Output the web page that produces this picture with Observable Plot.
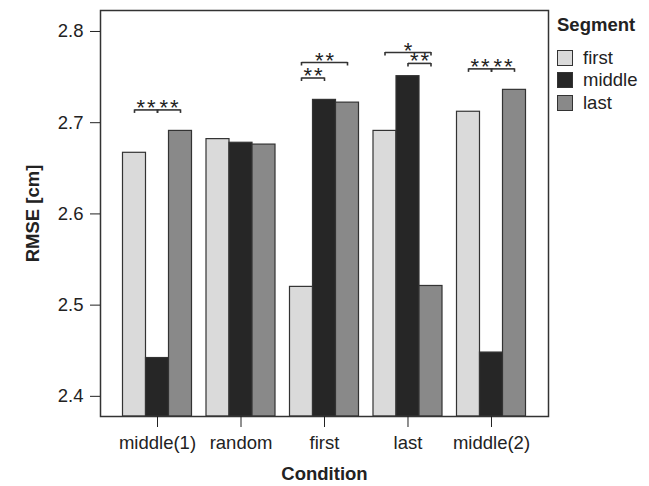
<!DOCTYPE html>
<html>
<head>
<meta charset="utf-8">
<script src="https://cdn.jsdelivr.net/npm/d3@7"></script>
<script src="https://cdn.jsdelivr.net/npm/@observablehq/plot@0.6"></script>
<style>
  html, body { margin: 0; padding: 0; background: #fff; }
  #wrap { position: relative; width: 649px; height: 486px; font-family: "Liberation Sans", Arial, sans-serif; color: #222; }
  #wrap svg { font-family: "Liberation Sans", Arial, sans-serif; }
  [aria-label="y-axis label"] text, [aria-label="x-axis label"] text { font-weight: bold; }
  g.sig-stars text { letter-spacing: 2px; }
  #legend { position: absolute; left: 557px; top: 14px; font-size: 18.5px; line-height: 22.5px; }
  #legend .title { font-weight: bold; margin-bottom: 10px; }
  #legend .item { display: flex; align-items: center; height: 22.5px; }
  #legend .sw { width: 14px; height: 14px; border: 1px solid #333; margin-right: 10px; }
</style>
</head>
<body>
<div id="wrap"></div>
<script>
const conditions = ["middle(1)", "random", "first", "last", "middle(2)"];
const segments = ["first", "middle", "last"];
const rmseFirst  = [2.667, 2.682, 2.520, 2.691, 2.712];
const rmseMiddle = [2.442, 2.678, 2.725, 2.751, 2.448];
const rmseLast   = [2.691, 2.676, 2.722, 2.521, 2.736];
const yTicks = [2.4, 2.5, 2.6, 2.7, 2.8];
const segmentColors = ["#dadada", "#262626", "#898989"];

// significance brackets
const sigCondition = ["middle(1)", "middle(1)", "first", "first", "last", "last", "middle(2)", "middle(2)"];
const sigFrom = ["first", "middle", "first", "first", "first", "middle", "first", "middle"];
const sigTo   = ["middle", "last", "middle", "last", "last", "last", "middle", "last"];
const sigY    = [2.714, 2.714, 2.749, 2.766, 2.777, 2.765, 2.759, 2.759];
const sigLabel = ["**", "**", "**", "**", "*", "**", "**", "**"];

// layout
const groupStep = 3.63;
const xDomain = [-1.478, 4 * groupStep + 2.5 + 0.978];
const yDomain = [2.3779, 2.823];

const series = [rmseFirst, rmseMiddle, rmseLast];
const pos = (c, s) => conditions.indexOf(c) * groupStep + segments.indexOf(s);

const table = [];
conditions.forEach((c, i) => segments.forEach((s, j) => {
  table.push({condition: c, segment: s, value: series[j][i], pos: pos(c, s)});
}));

const sig = sigCondition.map((c, k) => ({
  x1: pos(c, sigFrom[k]), x2: pos(c, sigTo[k]), y: sigY[k], label: sigLabel[k]
}));
const sigEnds = sig.flatMap(d => [{x: d.x1, y: d.y}, {x: d.x2, y: d.y}]);

const chart = Plot.plot({
  width: 649,
  height: 486,
  marginLeft: 100,
  marginRight: 101,
  marginTop: 10,
  marginBottom: 70,
  x: {domain: xDomain},
  y: {domain: yDomain},
  color: {domain: segments, range: segmentColors},
  marks: [
    Plot.rectY(table, {
      x1: d => d.pos - 0.5, x2: d => d.pos + 0.5,
      y1: yDomain[0], y2: "value",
      fill: "segment", stroke: "#333", strokeWidth: 1.2
    }),
    Plot.frame({stroke: "#333", strokeWidth: 1.5}),
    Plot.link(sig, {x1: "x1", x2: "x2", y1: "y", y2: "y", stroke: "#333", strokeWidth: 1.6}),
    Plot.ruleX(sigEnds, {x: "x", y1: "y", y2: "y", insetTop: 0, insetBottom: -3.5, stroke: "#333", strokeWidth: 1.6}),
    Plot.text(sig, {
      x: d => (d.x1 + d.x2) / 2, y: "y", text: "label",
      fontSize: 22, dy: -2, dx: 1, fill: "#222", lineAnchor: "middle",
      className: "sig-stars"
    }),
    Plot.axisY({
      ticks: yTicks, tickFormat: d => d.toFixed(1), tickSize: 10, tickPadding: 7,
      fontSize: 18.5, label: "RMSE [cm]", labelAnchor: "center", labelOffset: 75, labelArrow: "none"
    }),
    Plot.axisX({
      ticks: conditions.map(c => pos(c, "middle")),
      tickFormat: d => conditions[Math.round((d - 1) / groupStep)],
      tickSize: 11, tickPadding: 8, fontSize: 18.5,
      label: "Condition", labelAnchor: "center", labelOffset: 63, labelArrow: "none"
    })
  ]
});

const wrap = document.getElementById("wrap");
wrap.appendChild(chart);

const legend = document.createElement("div");
legend.id = "legend";
legend.innerHTML = `<div class="title">Segment</div>` +
  segments.map((s, i) => `<div class="item"><span class="sw" style="background:${segmentColors[i]}"></span>${s}</div>`).join("");
wrap.appendChild(legend);
</script>
</body>
</html>
